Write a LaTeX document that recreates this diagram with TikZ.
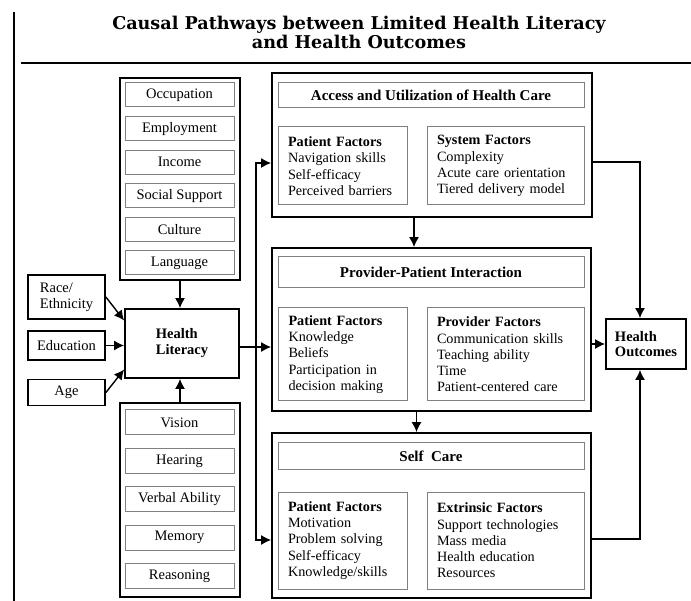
\documentclass[tikz,border=0pt]{standalone}
\usepackage{fontspec}
\setmainfont{Liberation Serif}
\newfontfamily\headfont{DejaVu Serif}
\usetikzlibrary{arrows.meta,calc}

\tikzset{
	frame/.style={draw, line width=1.8pt},
	item/.style={draw=gray, line width=1pt, minimum width=109pt, minimum height=24pt, font=\fontsize{14.5}{16}\selectfont},
	heading/.style={draw=gray, line width=1pt, minimum width=306pt, font=\fontsize{15}{16}\selectfont\bfseries},
	factors/.style={draw=gray, line width=1pt, align=left, inner xsep=10pt, font=\fontsize{14.2}{16.3}\selectfont},
	arr/.style={line width=1.4pt, -{Latex[length=10pt,width=10pt]}},
}

\begin{document}
\begin{tikzpicture}[x=1pt,y=-1pt]
	\useasboundingbox (0,0) rectangle (691,601);
	\draw[line width=2.5pt] (14,12) -- (14,601);
	\draw[line width=2pt] (21,63) -- (691,63);
	\node[align=center, font=\headfont\bfseries\fontsize{17.6}{19.5}\selectfont] (title) at (359,32.5)
		{Causal Pathways between Limited Health Literacy\\and Health Outcomes};

	% socio-economic and cognitive groups
	\node[frame, minimum width=120pt, minimum height=202pt] (ses) at (180,179) {};
	\foreach \t [count=\i from 0] in {Occupation,Employment,Income,Social Support,Culture,Language}
		\node[item] (ses\i) at (179.5,{95+33.6*\i}) {\t};
	\node[frame, minimum width=120pt, minimum height=194pt] (cog) at (180,500) {};
	\foreach \t [count=\i from 0] in {Vision,Hearing,Verbal Ability,Memory,Reasoning}
		\node[item, minimum height=25pt] (cog\i) at (179.5,{422.5+38.4*\i}) {\t};

	\begin{scope}[every node/.style={frame, minimum width=77pt, align=left, font=\fontsize{14.5}{16}\selectfont}]
	\node[minimum height=44pt] (race) at (66.5,297) {Race/\\Ethnicity};
	\node[minimum height=29pt] (edu) at (66.5,345.5) {Education};
	\node[minimum height=26pt] (age) at (66.5,392.5) {Age};
	\end{scope}

	\node[frame, minimum width=114pt, minimum height=69pt, align=left, font=\fontsize{14.5}{16}\selectfont\bfseries] (hl) at (182,343.5) {Health\\Literacy};
	\node[frame, minimum width=80pt, minimum height=50pt, align=left, font=\fontsize{14.5}{15.5}\selectfont\bfseries] (outcome) at (646,344) {Health\\Outcomes};

	% the three pathway blocks
	\node[frame, minimum width=320pt, minimum height=144pt] (access) at (432,145) {};
	\node[heading, minimum height=25pt] (accessT) at (431,95.5) {Access and Utilization of Health Care};
	\node[factors, text width=109pt, minimum height=78pt] (accessP) at (342.5,166)
		{\textbf{Patient Factors}\\Navigation skills\\Self-efficacy\\Perceived barriers};
	\node[factors, text width=137pt, minimum height=78pt] (accessS) at (505.5,166)
		{\textbf{System Factors}\\Complexity\\Acute care orientation\\Tiered delivery model};

	\node[frame, minimum width=319pt, minimum height=163pt] (mid) at (431.5,329.5) {};
	\node[heading, minimum height=31pt] (midT) at (431,272.5) {Provider-Patient Interaction};
	\node[factors, text width=108pt, minimum height=93pt, inner xsep=10.5pt] (midP) at (342.5,354.5)
		{\textbf{Patient Factors}\\Knowledge\\Beliefs\\Participation in\\decision making};
	\node[factors, text width=137pt, minimum height=93pt] (midR) at (505.5,354.5)
		{\textbf{Provider Factors}\\Communication skills\\Teaching ability\\Time\\Patient-centered care};

	\node[frame, minimum width=319pt, minimum height=165pt] (self) at (431.5,515.5) {};
	\node[heading, minimum height=27pt] (selfT) at (431,456.5) {Self~~Care};
	\node[factors, text width=109pt, minimum height=97pt] (selfP) at (342.5,540.5)
		{\textbf{Patient Factors}\\Motivation\\Problem solving\\Self-efficacy\\Knowledge/skills};
	\node[factors, text width=137pt, minimum height=97pt] (selfE) at (505.5,540.5)
		{\textbf{Extrinsic Factors}\\Support technologies\\Mass media\\Health education\\Resources};

	% arrows into health literacy
	\draw[arr] (ses.south) -- (ses.south |- hl.north);
	\draw[arr] (cog.north) -- (cog.north |- hl.south);
	\draw[arr] (race.east) -- ($(hl.west)+(0,-23)$);
	\draw[arr] (edu.east) -- (edu.east -| hl.west);
	\draw[arr] (age.east) -- ($(hl.west)+(0,26)$);

	% health literacy to the pathways
	\coordinate (fork) at (256,347);
	\draw[arr] (hl.east |- fork) -- (fork -| mid.west);
	\draw[arr] (fork) |- ($(access.west)+(0,18)$);
	\draw[arr] (fork) |- ($(self.west)+(0,24.5)$);
	\draw[arr] ([xshift=-18pt]access.south) -- ([xshift=-18pt]access.south |- mid.north);
	\draw[arr] ([xshift=-15pt]mid.south) -- ([xshift=-15pt]mid.south |- self.north);

	% pathways to outcomes
	\draw[arr] ([yshift=-17pt]access.east) -| ([xshift=-6pt]outcome.north);
	\draw[arr] (outcome.west -| mid.east) -- (outcome.west);
	\draw[arr] ([yshift=-23.5pt]self.east) -| ([xshift=-6pt]outcome.south);
\end{tikzpicture}
\end{document}
